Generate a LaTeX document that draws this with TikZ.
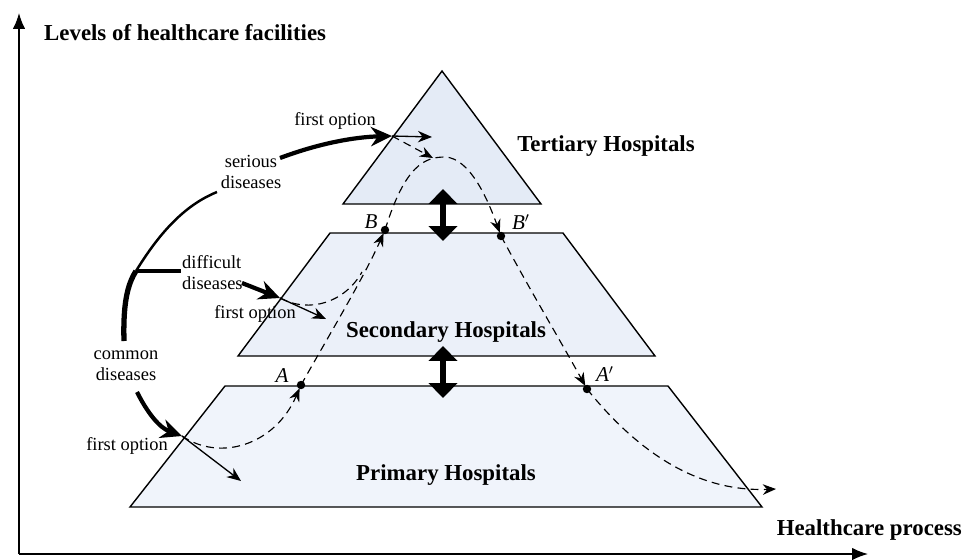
\documentclass[tikz,border=0pt]{standalone}
\usepackage{fontspec}
\setmainfont{Liberation Serif}
\usetikzlibrary{arrows.meta}

\definecolor{terfill}{HTML}{E4EBF6}
\definecolor{secfill}{HTML}{EBF0F9}
\definecolor{prifill}{HTML}{F0F4FB}

\begin{document}
\begin{tikzpicture}[x=0.02cm, y=-0.02cm, font=\fontsize{10.5}{12}\selectfont,
  level/.style={draw, line width=0.8pt},
  thinarrow/.style={-{Stealth[length=8pt,width=6.5pt]}, line width=0.75pt},
  fatarrow/.style={-{Stealth[length=12pt,width=11pt]}, line width=2.4pt},
  dasharrow/.style={-{Stealth[length=7.5pt,width=6pt]}, dash pattern=on 4.5pt off 3pt, line width=0.65pt},
  bothways/.style={{Triangle[length=8.5pt,width=16pt]}-{Triangle[length=8.5pt,width=16pt]}, line width=3.6pt},
  hosp/.style={font=\fontsize{13}{15}\selectfont\bfseries},
  pointlbl/.style={font=\fontsize{12}{14}\selectfont\itshape}]
\useasboundingbox (0,0) rectangle (971,559);

% Axes
\coordinate (o) at (19,554);
\coordinate (ytop) at (19,13);
\coordinate (xend) at (868,554);
\draw [-{Latex[length=9pt,width=7pt]}, line width=0.8pt] (o) -- (ytop);
\draw [-{Latex[length=9pt,width=7pt]}, line width=0.8pt] (o) -- (xend);
\node [anchor=west, hosp] (ylbl) at (38,33) {Levels of healthcare facilities};
\node [anchor=east, hosp] (xlbl) at (968,530) {Healthcare process};

% The three levels
\draw [level, fill=prifill] (130,507) -- (225,386) -- (668,386) -- (762,507) -- cycle;
\draw [level, fill=secfill] (238,356) -- (330,233) -- (563,233) -- (655,356) -- cycle;
\draw [level, fill=terfill] (343,204) -- (442,71) -- (541,204) -- cycle;
\node [hosp] (ter) at (606,146) {Tertiary Hospitals};
\node [hosp] (sec) at (446,332) {Secondary Hospitals};
\node [hosp] (pri) at (446,475) {Primary Hospitals};

% Referral between levels
\coordinate (u1) at (443,189);
\coordinate (u2) at (443,241);
\coordinate (v1) at (443,346);
\coordinate (v2) at (443,398);
\draw [bothways] (u1) -- (u2);
\draw [bothways] (v1) -- (v2);

% Points on the level boundaries
\coordinate (pA) at (301,385);
\coordinate (pB) at (385,230);
\coordinate (pBp) at (501,236);
\coordinate (pAp) at (587,389);
\foreach \p in {pA, pB, pBp, pAp}
  \fill (\p) circle [radius=2.4pt];
\node [pointlbl] (lA) at (282,376) {A};
\node [pointlbl] (lB) at (371,222) {B};
\node [pointlbl] (lBp) at (521,222) {B$'$};
\node [pointlbl] (lAp) at (605,374) {A$'$};

% Diseases
\node [align=center] (serious) at (251,172) {serious\\diseases};
\node [align=left, anchor=west] (difficult) at (176,273) {difficult\\diseases};
\node [align=center] (common) at (126,366) {common\\diseases};
\node (opt3) at (335,121) {first option};
\node (opt2) at (255,314) {first option};
\node (opt1) at (127,446) {first option};

% Where the patients enter each level
\coordinate (c1) at (182,436);
\coordinate (d1) at (280,298);
\coordinate (t1) at (392,136);

% Branching curve on the left
\coordinate (br) at (136,271);
\draw [line width=3pt] (124,341) .. controls (123,305) and (127,285) .. (br);
\draw [line width=1.4pt] (br) .. controls (160,232) and (185,205) .. (217,192);
\draw [line width=2.6pt] (br) -- (181,271);

% First options
\draw [fatarrow] (280,158) .. controls (320,143) and (355,137) .. (t1);
\draw [thinarrow] (t1) -- (432,137);
\draw [fatarrow] (242,283) -- (d1);
\draw [thinarrow] (d1) -- (326,319);
\draw [fatarrow] (137,392) .. controls (148,414) and (160,428) .. (c1);
\draw [thinarrow] (c1) -- (241,481);

% Patient flow
\draw [dasharrow, shorten >=2pt] (c1) .. controls (220,462) and (275,445) .. (pA);
\draw [dasharrow, shorten >=2pt] (pA) .. controls (335,325) and (365,275) .. (pB);
\draw [dash pattern=on 4.5pt off 3pt, line width=0.65pt] (d1) .. controls (310,314) and (345,302) .. (362,272);
\draw [dasharrow] (t1) -- (433,158);
\draw [dasharrow, shorten >=2pt] (pB) .. controls (405,165) and (425,157) .. (445,157)
  .. controls (470,158) and (488,200) .. (pBp);
\draw [dasharrow, shorten >=2pt] (pBp) .. controls (530,290) and (560,340) .. (pAp);
\draw [dasharrow] (pAp) .. controls (640,455) and (700,492) .. (776,489);
\end{tikzpicture}
\end{document}
